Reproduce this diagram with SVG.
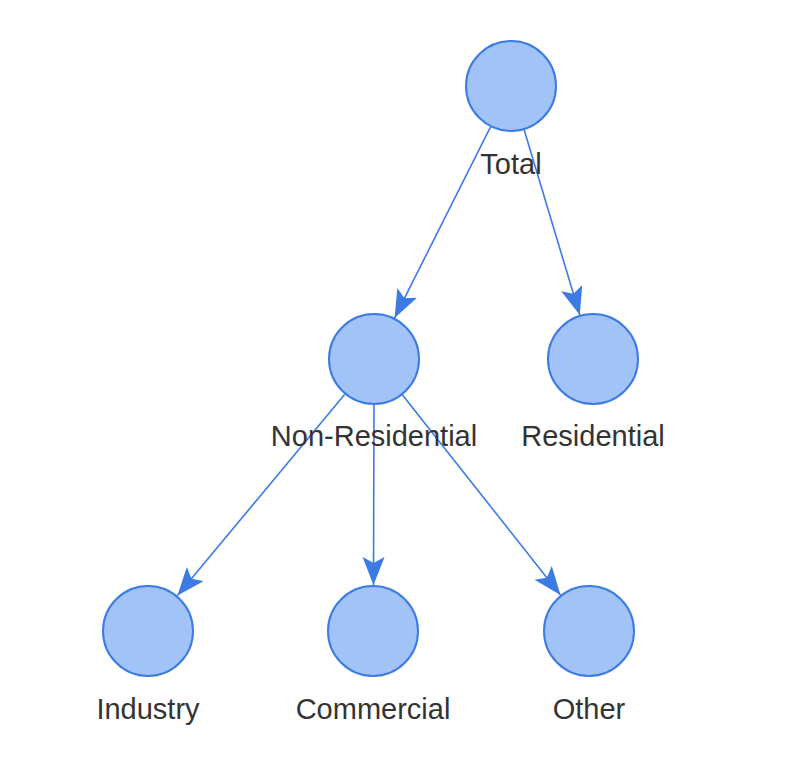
<svg xmlns="http://www.w3.org/2000/svg" width="807" height="771" viewBox="0 0 807 771">
<style>
.node circle{fill:#a1c3f7;stroke:#3c7be3;stroke-width:2}
.node text{font-family:"Liberation Sans",Arial,sans-serif;font-size:29px;fill:#333333;text-anchor:middle}
.edge{stroke:#3c7be3;stroke-width:1.6;fill:none;marker-end:url(#arr)}
</style>
<defs>
<marker id="arr" markerUnits="userSpaceOnUse" markerWidth="30" markerHeight="24" refX="28" refY="11" orient="auto">
<path d="M0,0 L28,11 L0,22 L6,11 z" fill="#3c7be3"/>
</marker>
</defs>
<rect width="807" height="771" fill="#ffffff"/>
<g id="connectors">
<line class="edge" x1="490.4" y1="127.1" x2="394.6" y2="317.9"/>
<line class="edge" x1="524.2" y1="130.1" x2="579.8" y2="314.9"/>
<line class="edge" x1="344.6" y1="394.4" x2="177.4" y2="595.6"/>
<line class="edge" x1="374" y1="405" x2="373.5" y2="585"/>
<line class="edge" x1="402.5" y1="395.1" x2="560.5" y2="594.9"/>
</g>
<g id="total" class="node"><circle cx="511" cy="86" r="45"/><text x="511" y="174">Total</text></g>
<g id="non-residential" class="node"><circle cx="374" cy="359" r="45"/><text x="374" y="446">Non-Residential</text></g>
<g id="residential" class="node"><circle cx="593" cy="359" r="45"/><text x="593" y="446">Residential</text></g>
<g id="industry" class="node"><circle cx="148" cy="631" r="45"/><text x="148" y="719">Industry</text></g>
<g id="commercial" class="node"><circle cx="373" cy="631" r="45"/><text x="373" y="719">Commercial</text></g>
<g id="other" class="node"><circle cx="589" cy="631" r="45"/><text x="589" y="719">Other</text></g>
</svg>
